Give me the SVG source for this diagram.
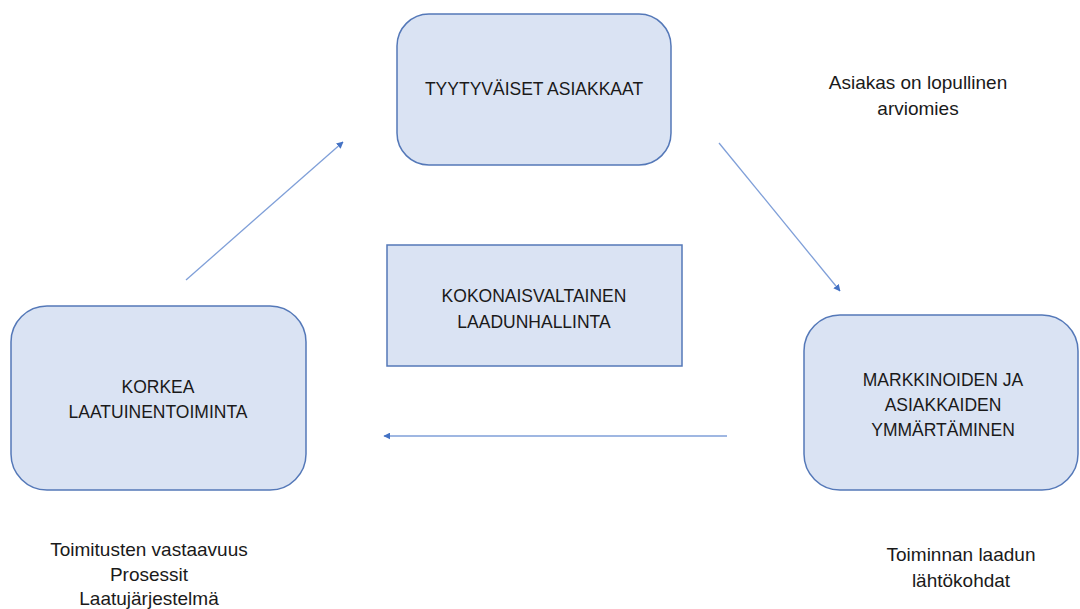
<svg xmlns="http://www.w3.org/2000/svg" width="1080" height="609" viewBox="0 0 1080 609">
  <defs>
    <style>
      .box { fill: #dae3f3; stroke: #5478b8; stroke-width: 1.5; }
      .lbl { font-family: "Liberation Sans", Arial, sans-serif; font-size: 17.5px; fill: #1a1a1a; text-anchor: middle; }
      .note { font-family: "Liberation Sans", Arial, sans-serif; font-size: 19px; fill: #1a1a1a; text-anchor: middle; }
      .conn { stroke: #7f9fd8; stroke-width: 1.3; fill: none; marker-end: url(#arrow); }
    </style>
    <marker id="arrow" viewBox="0 0 10 10" refX="9" refY="5" markerWidth="7" markerHeight="7" markerUnits="userSpaceOnUse" orient="auto">
      <path d="M0,0 L10,5 L0,10 z" fill="#4472c4"/>
    </marker>
  </defs>
  <rect width="1080" height="609" fill="#ffffff"/>

  <g id="connectors">
    <line class="conn" x1="186" y1="280" x2="343" y2="142"/>
    <line class="conn" x1="719" y1="143" x2="840" y2="291"/>
    <line class="conn" x1="727" y1="436" x2="384" y2="436"/>
  </g>

  <g id="node-tyytyvaiset">
    <rect class="box" x="397" y="14" width="274" height="151" rx="32"/>
    <text class="lbl" x="534" y="95">TYYTYVÄISET ASIAKKAAT</text>
  </g>

  <g id="node-kokonaisvaltainen">
    <rect class="box" x="387" y="245" width="295" height="121"/>
    <text class="lbl" x="534" y="302">KOKONAISVALTAINEN</text>
    <text class="lbl" x="534" y="328">LAADUNHALLINTA</text>
  </g>

  <g id="node-korkea">
    <rect class="box" x="11" y="306" width="295" height="184" rx="36"/>
    <text class="lbl" x="158" y="393">KORKEA</text>
    <text class="lbl" x="158" y="418">LAATUINENTOIMINTA</text>
  </g>

  <g id="node-markkinoiden">
    <rect class="box" x="804" y="315" width="274" height="175" rx="36"/>
    <text class="lbl" x="943" y="386">MARKKINOIDEN JA</text>
    <text class="lbl" x="943" y="411">ASIAKKAIDEN</text>
    <text class="lbl" x="943" y="436">YMMÄRTÄMINEN</text>
  </g>

  <g id="note-asiakas">
    <text class="note" x="918" y="89">Asiakas on lopullinen</text>
    <text class="note" x="918" y="115">arviomies</text>
  </g>

  <g id="note-toimitusten">
    <text class="note" x="149" y="556">Toimitusten vastaavuus</text>
    <text class="note" x="149" y="581">Prosessit</text>
    <text class="note" x="149" y="605">Laatujärjestelmä</text>
  </g>

  <g id="note-toiminnan">
    <text class="note" x="961" y="561">Toiminnan laadun</text>
    <text class="note" x="961" y="587">lähtökohdat</text>
  </g>
</svg>
